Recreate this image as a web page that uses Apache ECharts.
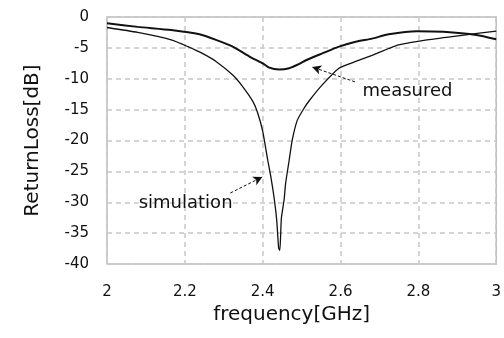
<!DOCTYPE html>
<html>
<head>
<meta charset="utf-8">
<script src="https://cdn.jsdelivr.net/npm/echarts@6/dist/echarts.min.js"></script>
<style>
  html, body { margin: 0; padding: 0; background: #fff; }
  #chart { width: 504px; height: 338px; }
</style>
</head>
<body>
<div id="chart"></div>
<script>
// frequency [GHz] / return loss [dB]
const measFreq = [2.0, 2.079, 2.165, 2.238, 2.28, 2.323, 2.366, 2.4, 2.417, 2.442, 2.468, 2.494, 2.511, 2.553, 2.596, 2.639, 2.681, 2.724, 2.796, 2.864, 2.949, 3.0];
const measVal  = [-1.0, -1.6, -2.1, -2.8, -3.7, -4.8, -6.4, -7.5, -8.2, -8.5, -8.3, -7.6, -7.0, -5.9, -4.8, -4.0, -3.5, -2.8, -2.3, -2.4, -2.9, -3.6];

const simFreq = [2.0, 2.079, 2.165, 2.208, 2.245, 2.28, 2.323, 2.349, 2.375, 2.387, 2.4, 2.413, 2.421, 2.43, 2.436, 2.441, 2.444, 2.448, 2.455, 2.459, 2.468, 2.476, 2.489, 2.506, 2.519, 2.553, 2.596, 2.639, 2.681, 2.724, 2.749, 2.822, 2.907, 3.0];
const simVal  = [-1.7, -2.5, -3.7, -4.8, -5.9, -7.2, -9.4, -11.3, -13.7, -15.5, -18.5, -23.2, -25.9, -29.6, -32.9, -37.4, -37.8, -32.6, -29.6, -26.9, -23.2, -19.9, -16.7, -14.8, -13.6, -11.0, -8.3, -7.2, -6.2, -5.1, -4.5, -3.7, -3.0, -2.3];

const xTicks = [2, 2.2, 2.4, 2.6, 2.8, 3];

// annotations: label position, arrow tail, arrow head (data coords)
const measNote = { text: 'measured', at: [2.772, -12.0], from: [2.637, -10.5], to: [2.527, -8.1] };
const simNote  = { text: 'simulation', at: [2.202, -30.1], from: [2.317, -28.5], to: [2.399, -25.9] };

const font = '"DejaVu Sans", Verdana, sans-serif';
const zip = (xs, ys) => xs.map((x, i) => [x, ys[i]]);

function note(n) {
  return {
    markLine: {
      silent: true,
      symbol: ['none', 'arrow'],
      symbolSize: [7, 9],
      label: { show: false },
      lineStyle: { color: '#111', type: [3, 2], width: 1 },
      data: [[{ coord: n.from }, { coord: n.to }]]
    },
    markPoint: {
      silent: true,
      symbol: 'circle',
      symbolSize: 0,
      label: { show: true, position: 'inside', color: '#111', fontSize: 18, fontFamily: font, formatter: n.text },
      data: [{ coord: n.at }]
    }
  };
}

const chart = echarts.init(document.getElementById('chart'));
chart.setOption({
  animation: false,
  backgroundColor: '#fff',
  grid: { left: 107, right: 6, top: 17, bottom: 74, show: true, borderColor: '#bdbdbd', borderWidth: 1.5 },
  xAxis: {
    type: 'value',
    min: 2, max: 3, interval: 0.2,
    name: 'frequency[GHz]',
    nameLocation: 'middle',
    nameGap: 41,
    nameTextStyle: { color: '#111', fontSize: 20, fontFamily: font, padding: [0, 20, 0, 0] },
    axisLine: { show: false },
    axisTick: { show: false },
    axisLabel: {
      color: '#111', fontSize: 15, fontFamily: font, margin: 21,
      formatter: v => xTicks.find(t => Math.abs(t - v) < 1e-6) !== undefined ? String(+v.toFixed(1)) : ''
    },
    splitLine: { lineStyle: { color: '#c8c8c8', type: [5, 4], width: 1.5 } }
  },
  yAxis: {
    type: 'value',
    min: -40, max: 0, interval: 5,
    name: 'ReturnLoss[dB]',
    nameLocation: 'middle',
    nameGap: 64,
    nameTextStyle: { color: '#111', fontSize: 20, fontFamily: font },
    axisLine: { show: false },
    axisTick: { show: false },
    axisLabel: { color: '#111', fontSize: 15, fontFamily: font, margin: 18 },
    splitLine: { lineStyle: { color: '#c8c8c8', type: [5, 4], width: 1.5 } }
  },
  series: [
    Object.assign({
      name: 'measured',
      type: 'line',
      data: zip(measFreq, measVal),
      symbol: 'none',
      smooth: 0.2,
      lineStyle: { color: '#111', width: 2 }
    }, note(measNote)),
    Object.assign({
      name: 'simulation',
      type: 'line',
      data: zip(simFreq, simVal),
      symbol: 'none',
      smooth: 0.2,
      lineStyle: { color: '#111', width: 1.3 }
    }, note(simNote))
  ]
});
</script>
</body>
</html>
